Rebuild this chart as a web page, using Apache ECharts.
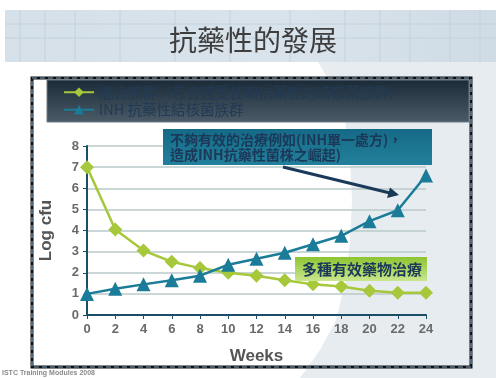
<!DOCTYPE html>
<html><head><meta charset="utf-8">
<script src="https://cdn.jsdelivr.net/npm/echarts@6/dist/echarts.min.js"></script>
<style>html,body{margin:0;padding:0;background:#fff}#c{width:496px;height:378px}</style>
</head><body><div id="c"></div>
<script>
const title = '抗藥性的發展';
const weeks = [0,2,4,6,8,10,12,14,16,18,20,22,24];
const mixedName = '混合族群（包含感受性和抗藥性的結核菌族群）';
const inhName = 'INH 抗藥性結核菌族群';
const mixedVals = [7,4.05,3.05,2.52,2.22,2.0,1.86,1.65,1.45,1.35,1.15,1.05,1.05];
const inhVals = [1.0,1.24,1.45,1.65,1.86,2.38,2.66,2.95,3.35,3.75,4.44,4.96,6.6];
const yTicks = [0,1,2,3,4,5,6,7,8];
const xName = 'Weeks', yName = 'Log cfu';
const note1 = ['不夠有效的治療例如(INH單一處方)，','造成INH抗藥性菌株之崛起)'];
const note2 = '多種有效藥物治療';
const footer = 'ISTC Training Modules 2008';

const chart = echarts.init(document.getElementById('c'), null, {renderer:'canvas'});
const pair = vals => weeks.map((w,i)=>[w, vals[i]]);
const cjk = '"Noto Sans CJK TC", "Noto Sans CJK SC", serif';
const lg = (x2,y2,stops) => ({type:'linear', x:0, y:0, x2:x2, y2:y2, colorStops:stops.map(s=>({offset:s[0], color:s[1]}))});

const bgLines = [];
for (const x of [20,45,75,120,175,230,290,345,380,410,450,480]) bgLines.push({type:'line', shape:{x1:x,y1:10,x2:x,y2:62}, style:{stroke:'#c4d1dc', lineWidth:1}, z:-9});
for (const y of [24,38]) bgLines.push({type:'line', shape:{x1:5,y1:y,x2:496,y2:y}, style:{stroke:'#c4d1dc', lineWidth:1}, z:-9});

const curvePts = [[318,62],[335,90],[345,120],[350,160],[352,200],[350,240],[346,280],[336,320],[320,350],[300,378],[496,378],[496,62]];

chart.setOption({
  animation:false,
  backgroundColor:'#ffffff',
  graphic:[
    {type:'polygon', z:-10, shape:{points:curvePts}, style:{fill:'#e6ecf0'}},
    {type:'rect', z:-10, shape:{x:5,y:10,width:491,height:52}, style:{fill:lg(1,0,[[0,'#d5e0e9'],[0.6,'#d9e3eb'],[1,'#cfdbe5']])}},
    ...bgLines,
    {type:'text', z:5, style:{text:title, x:253, y:40, align:'center', verticalAlign:'middle', font:'28px '+cjk, fill:'#3e3e3e'}},
    {type:'rect', z:-5, shape:{x:32,y:78,width:439,height:289}, style:{fill:'transparent', stroke:'#111', lineWidth:3}},
    {type:'rect', z:-4, shape:{x:32,y:78,width:439,height:289}, style:{fill:'transparent', stroke:'#7fa4c8', lineWidth:1.2, lineDash:[5,3]}},
    {type:'rect', z:-3, shape:{x:47,y:80,width:422,height:42}, style:{fill:lg(0,1,[[0,'#1b2a37'],[1,'#4b5b67']]), stroke:'#6d7b86', lineWidth:1}},
    {type:'rect', z:5, shape:{x:163,y:129,width:269,height:36}, style:{fill:lg(0,1,[[0,'#156a86'],[1,'#22809c']])}},
    {type:'text', z:6, style:{text:note1[0], x:170, y:140, verticalAlign:'middle', font:'bold 14px '+cjk, fill:'#1c3858'}},
    {type:'text', z:6, style:{text:note1[1], x:170, y:155, verticalAlign:'middle', font:'bold 14px '+cjk, fill:'#1c3858'}},
    {type:'line', z:6, shape:{x1:283,y1:167,x2:390,y2:193}, style:{stroke:'#1b3a5a', lineWidth:3}},
    {type:'polygon', z:6, shape:{points:[[399,195],[387,198],[390,187.5]]}, style:{fill:'#1b3a5a'}},
    {type:'rect', z:5, shape:{x:295,y:257,width:132,height:24}, style:{fill:lg(0,1,[[0,'#8dc431'],[1,'#c9e68d']])}},
    {type:'text', z:6, style:{text:note2, x:362, y:269, align:'center', verticalAlign:'middle', font:'bold 15px '+cjk, fill:'#1c3858'}},
    {type:'text', z:6, style:{text:footer, x:2, y:373, verticalAlign:'middle', font:'bold 7px "Liberation Sans", Arial', fill:'#8a8a8a'}}
  ],
  legend:{
    orient:'vertical', left:63, top:85, itemWidth:30, itemHeight:12, itemGap:3, padding:0,
    textStyle:{color:'#213a55', fontSize:14.5, lineHeight:14, fontFamily:cjk},
    data:[mixedName, inhName]
  },
  grid:{left:87, top:146, width:339, height:169},
  xAxis:{type:'value', min:0, max:24, interval:2, name:xName, nameLocation:'middle', nameGap:33,
    nameTextStyle:{fontSize:17, fontWeight:'bold', color:'#555', fontFamily:'"Liberation Sans", Arial'},
    axisLine:{lineStyle:{color:'#1a4e66', width:2}}, axisTick:{show:true, length:4, lineStyle:{color:'#1a4e66'}},
    axisLabel:{fontSize:13, fontWeight:'bold', color:'#6a6a6a', margin:8, fontFamily:'"Liberation Sans", Arial'},
    splitLine:{show:false}},
  yAxis:{type:'value', min:0, max:8, interval:1, name:yName, nameLocation:'middle', nameGap:32, nameRotate:90,
    nameTextStyle:{fontSize:17, fontWeight:'bold', color:'#555', fontFamily:'"Liberation Sans", Arial'},
    axisLine:{show:true, lineStyle:{color:'#1a4e66', width:2}}, axisTick:{show:true, length:4, lineStyle:{color:'#1a4e66'}},
    axisLabel:{fontSize:13, fontWeight:'bold', color:'#6a6a6a', margin:8, fontFamily:'"Liberation Sans", Arial', formatter:v=>yTicks.includes(v)?String(v):''},
    splitLine:{show:true, lineStyle:{color:'#b9cac9', width:1.5}}},
  series:[
    {name:mixedName, type:'line', data:pair(mixedVals), symbol:'diamond', symbolSize:14,
      lineStyle:{color:'#a6c83a', width:2.5}, itemStyle:{color:'#a6c83a'}, z:3},
    {name:inhName, type:'line', data:pair(inhVals), symbol:'triangle', symbolSize:14,
      lineStyle:{color:'#1a7c98', width:2.5}, itemStyle:{color:'#1a7c98'}, z:4}
  ]
});
</script></body></html>
